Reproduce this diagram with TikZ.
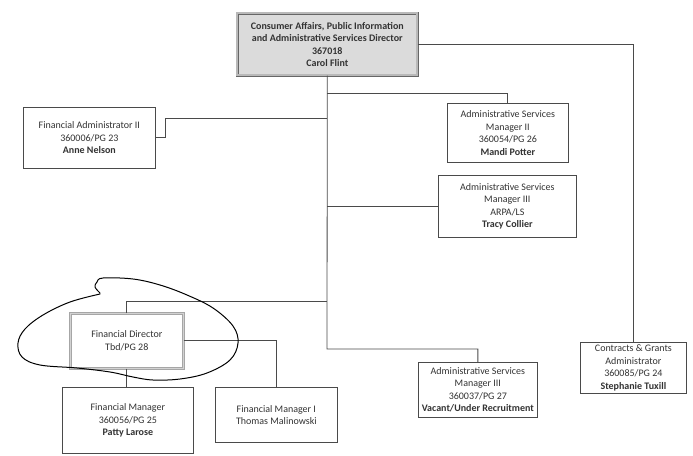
\documentclass[tikz,border=0pt]{standalone}
\usepackage{fontspec}
\setmainfont{Carlito}
\definecolor{txt}{HTML}{333333}
\definecolor{ln}{HTML}{4A4A4A}
\begin{document}
\begin{tikzpicture}[x=1pt,y=-1pt,
  every node/.style={font=\fontsize{10}{12.5}\selectfont, text=txt},
  orgbox/.style={draw=ln, line width=0.7pt, fill=white, align=center, anchor=north west, inner sep=1pt},
  headbox/.style={draw=gray!80!black, double=gray!55, double distance=2pt, line width=0.6pt, fill=gray!28, align=center, anchor=north west, inner sep=1pt},
  fdbox/.style={draw=gray!70, double=gray!35, double distance=1.6pt, line width=0.6pt, fill=white, align=center, anchor=north west, inner sep=1pt},
  link/.style={draw=ln, line width=0.8pt},
  pen/.style={draw=black, line width=1pt, line cap=round, line join=round}]
\fill[white] (0,0) rectangle (693,455);
\useasboundingbox (0,0) rectangle (693,455);

\node[headbox, minimum width=180pt, minimum height=62pt] (top) at (237,13)
  {\textbf{Consumer Affairs, Public Information}\\\textbf{and Administrative Services Director}\\\textbf{367018}\\\textbf{Carol Flint}};
\node[orgbox, minimum width=132pt, minimum height=61pt] (fa2) at (23,107)
  {Financial Administrator II\\360006/PG 23\\\textbf{Anne Nelson}};
\node[orgbox, minimum width=121pt, minimum height=59pt] (am2) at (447,103)
  {Administrative Services\\Manager II\\360054/PG 26\\\textbf{Mandi Potter}};
\node[orgbox, minimum width=138pt, minimum height=62pt] (arpa) at (438,175)
  {Administrative Services\\Manager III\\ARPA/LS\\\textbf{Tracy Collier}};
\node[fdbox, minimum width=113pt, minimum height=55pt] (fd) at (70,313)
  {Financial Director\\Tbd/PG 28};
\node[orgbox, minimum width=131pt, minimum height=66pt] (fm) at (62,387)
  {Financial Manager\\360056/PG 25\\\textbf{Patty Larose}};
\node[orgbox, minimum width=122pt, minimum height=55pt] (fm1) at (215,387)
  {Financial Manager I\\Thomas Malinowski};
\node[orgbox, minimum width=119pt, minimum height=55pt] (am3) at (418,362)
  {Administrative Services\\Manager III\\360037/PG 27\\\textbf{Vacant/Under Recruitment}};
\node[orgbox, minimum width=106pt, minimum height=51pt] (cg) at (580,342)
  {Contracts \& Grants\\Administrator\\360085/PG 24\\\textbf{Stephanie Tuxill}};

\coordinate (tb) at (327,349);
\coordinate (j1) at (327,118);
\coordinate (j2) at (327,93);
\coordinate (j4) at (327,301);

\draw[link] (top.south) -- (tb) -| (am3.north);
\draw[link] (top.east) -| (cg.north);
\draw[link] (fa2.east) -- ++(10,0) |- (j1);
\draw[link] (j2) -| (am2.north);
\draw[link] (arpa.west -| tb) -- (arpa.west);
\draw[link] (fd.north) |- (j4);
\draw[link] (fd.east) -| (fm1.north);
\draw[link] (fd.south) -- (fd.south |- fm.north);

% hand-drawn loop around the Financial Director
\draw[pen] plot[smooth, tension=0.6] coordinates {
  (100,293) (95,287) (97,282) (103,278) (133,279) (160,285) (187,295)
  (213,308) (233,326) (238,343) (230,360) (207,373) (180,379) (153,380)
  (133,377) (110,372) (77,368) (40,365) (22,357) (18,343) (25,329)
  (43,315) (70,302) (100,294)};
\end{tikzpicture}
\end{document}
